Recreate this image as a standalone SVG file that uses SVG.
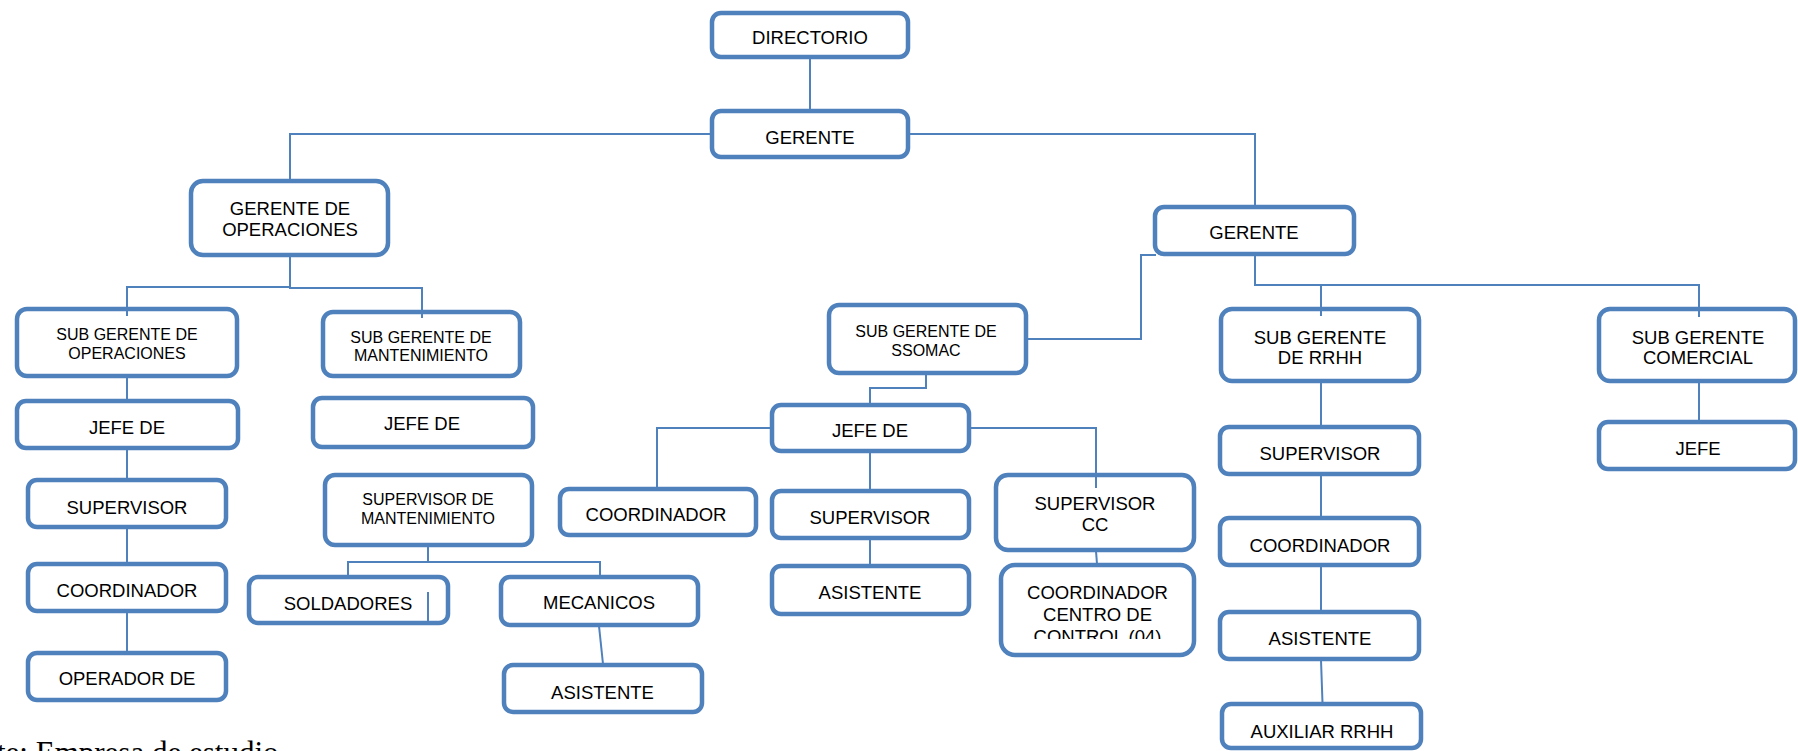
<svg xmlns="http://www.w3.org/2000/svg" width="1798" height="751" viewBox="0 0 1798 751">
<defs>
<style>
.box{fill:#fff;stroke:#4F81BD;stroke-width:4.5}
.ln{fill:none;stroke:#4F81BD;stroke-width:2}
.t{font-family:"Liberation Sans",Arial,sans-serif;font-size:18.5px;fill:#000;text-anchor:middle}
.s{font-family:"Liberation Sans",Arial,sans-serif;font-size:16px;fill:#000;text-anchor:middle}
.cap{font-family:"Liberation Serif","Times New Roman",serif;font-size:31px;fill:#000}
</style>
<clipPath id="ccclip"><rect x="990" y="560" width="220" height="79"/></clipPath>
</defs>
<rect width="1798" height="751" fill="#fff"/>
<g id="n-directorio"><rect class="box" x="712" y="13" width="196" height="44" rx="9"/><text class="t" x="810" y="43.5">DIRECTORIO</text></g>
<g id="n-gerente"><rect class="box" x="712" y="111" width="196" height="46" rx="9"/><text class="t" x="810" y="143.5">GERENTE</text></g>
<g id="n-gerente-op"><rect class="box" x="191" y="181" width="197" height="74" rx="12"/><text class="t" x="290" y="214.5">GERENTE DE</text><text class="t" x="290" y="235.5">OPERACIONES</text></g>
<g id="n-gerente2"><rect class="box" x="1155" y="207" width="199" height="47" rx="9"/><text class="t" x="1254" y="238.5">GERENTE</text></g>
<g id="n-sub-op"><rect class="box" x="17" y="309" width="220" height="67" rx="10"/><text class="s" x="127" y="339.7">SUB GERENTE DE</text><text class="s" x="127" y="358.7">OPERACIONES</text></g>
<g id="n-sub-mant"><rect class="box" x="323" y="312" width="197" height="64" rx="10"/><text class="s" x="421" y="342.7">SUB GERENTE DE</text><text class="s" x="421" y="360.7">MANTENIMIENTO</text></g>
<g id="n-jefe-op"><rect class="box" x="17" y="401" width="221" height="47" rx="9"/><text class="t" x="127" y="433.5">JEFE DE</text></g>
<g id="n-jefe-mant"><rect class="box" x="313" y="398" width="220" height="49" rx="9"/><text class="t" x="422" y="429.5">JEFE DE</text></g>
<g id="n-sup-op"><rect class="box" x="28" y="480" width="198" height="47" rx="9"/><text class="t" x="127" y="513.5">SUPERVISOR</text></g>
<g id="n-sup-mant"><rect class="box" x="325" y="475" width="207" height="70" rx="10"/><text class="s" x="428" y="504.7">SUPERVISOR DE</text><text class="s" x="428" y="523.7">MANTENIMIENTO</text></g>
<g id="n-coord-op"><rect class="box" x="28" y="564" width="198" height="47" rx="9"/><text class="t" x="127" y="596.5">COORDINADOR</text></g>
<g id="n-operador"><rect class="box" x="28" y="653" width="198" height="47" rx="9"/><text class="t" x="127" y="684.5">OPERADOR DE</text></g>
<g id="n-soldadores"><rect class="box" x="249" y="577" width="199" height="46" rx="9"/><text class="t" x="348" y="609.5">SOLDADORES</text></g>
<g id="n-mecanicos"><rect class="box" x="501" y="577" width="197" height="48" rx="9"/><text class="t" x="599" y="608.5">MECANICOS</text></g>
<g id="n-asist-mant"><rect class="box" x="504" y="665" width="198" height="47" rx="9"/><text class="t" x="602.5" y="698.5">ASISTENTE</text></g>
<g id="n-sub-ssomac"><rect class="box" x="829" y="305" width="197" height="68" rx="10"/><text class="s" x="926" y="336.7">SUB GERENTE DE</text><text class="s" x="926" y="355.7">SSOMAC</text></g>
<g id="n-jefe-ssomac"><rect class="box" x="772" y="405" width="197" height="46" rx="9"/><text class="t" x="870" y="436.5">JEFE DE</text></g>
<g id="n-coord-ssomac"><rect class="box" x="560" y="489" width="196" height="46" rx="9"/><text class="t" x="656" y="520.5">COORDINADOR</text></g>
<g id="n-sup-ssomac"><rect class="box" x="772" y="491" width="197" height="47" rx="9"/><text class="t" x="870" y="523.5">SUPERVISOR</text></g>
<g id="n-asist-ssomac"><rect class="box" x="772" y="566" width="197" height="48" rx="9"/><text class="t" x="870" y="598.5">ASISTENTE</text></g>
<g id="n-sup-cc"><rect class="box" x="996" y="475" width="198" height="75" rx="12"/><text class="t" x="1095" y="509.5">SUPERVISOR</text><text class="t" x="1095" y="530.5">CC</text></g>
<g id="n-coord-cc"><rect class="box" x="1001" y="565" width="193" height="90" rx="14"/><g clip-path="url(#ccclip)"><text class="t" x="1097.5" y="598.5">COORDINADOR</text><text class="t" x="1097.5" y="620.5">CENTRO DE</text><text class="t" x="1097.5" y="642.5">CONTROL (04)</text></g></g>
<g id="n-sub-rrhh"><rect class="box" x="1221" y="309" width="198" height="72" rx="11"/><text class="t" x="1320" y="343.5">SUB GERENTE</text><text class="t" x="1320" y="363.5">DE RRHH</text></g>
<g id="n-sub-com"><rect class="box" x="1599" y="309" width="196" height="72" rx="11"/><text class="t" x="1698" y="343.5">SUB GERENTE</text><text class="t" x="1698" y="363.5">COMERCIAL</text></g>
<g id="n-jefe-com"><rect class="box" x="1599" y="422" width="196" height="47" rx="9"/><text class="t" x="1698" y="454.5">JEFE</text></g>
<g id="n-sup-rrhh"><rect class="box" x="1220" y="427" width="199" height="47" rx="9"/><text class="t" x="1320" y="459.5">SUPERVISOR</text></g>
<g id="n-coord-rrhh"><rect class="box" x="1220" y="518" width="199" height="47" rx="9"/><text class="t" x="1320" y="551.5">COORDINADOR</text></g>
<g id="n-asist-rrhh"><rect class="box" x="1220" y="612" width="199" height="47" rx="9"/><text class="t" x="1320" y="644.5">ASISTENTE</text></g>
<g id="n-aux-rrhh"><rect class="box" x="1222" y="704" width="199" height="44" rx="9"/><text class="t" x="1322" y="737.5">AUXILIAR RRHH</text></g>
<g id="connectors">
<path class="ln" d="M810 59V109"/>
<path class="ln" d="M710 134H290V181"/>
<path class="ln" d="M910 134H1255V207"/>
<path class="ln" d="M290 256V287H127V316"/>
<path class="ln" d="M290 287V288H422V318"/>
<path class="ln" d="M127 377V400M127 449V479M127 528V563M127 612V652"/>
<path class="ln" d="M428 546V562M348 576V562H600V576"/>
<path class="ln" d="M428 592V622"/>
<path class="ln" d="M599 626L603 664"/>
<path class="ln" d="M1026 339H1141V255H1156"/>
<path class="ln" d="M926 373V388H870V404"/>
<path class="ln" d="M771 428H657V488"/>
<path class="ln" d="M870 452V490M870 539V565"/>
<path class="ln" d="M970 428H1096V488"/>
<path class="ln" d="M1096 551L1097 564"/>
<path class="ln" d="M1255 255V285H1321V316M1321 285H1699V317"/>
<path class="ln" d="M1321 382V426M1321 475V517M1321 566V611M1321 660L1322.5 703"/>
<path class="ln" d="M1699 382V421"/>
</g>
<text class="cap" x="-3" y="763">te: Empresa de estudio</text>
</svg>
